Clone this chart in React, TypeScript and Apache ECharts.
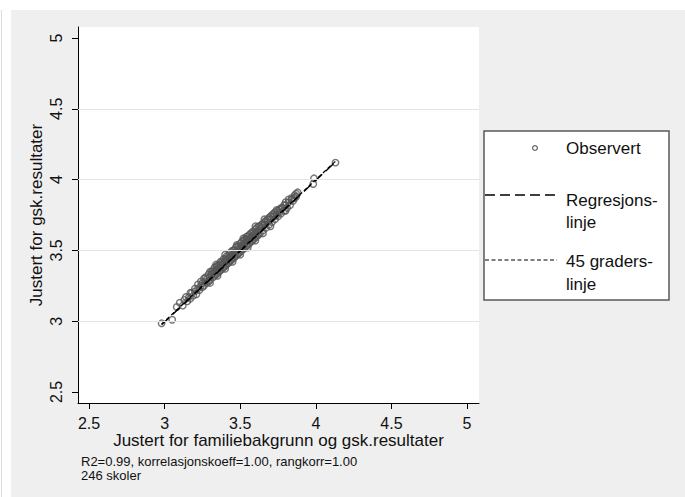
import React, { useEffect, useRef } from "react";
import * as echarts from "echarts";

const tickValues = [2.5, 3, 3.5, 4, 4.5, 5];
const gridValues = [3, 3.5, 4, 4.5];
const xTitle = "Justert for familiebakgrunn og gsk.resultater";
const yTitle = "Justert for gsk.resultater";
const noteLines = ["R2=0.99, korrelasjonskoeff=1.00, rangkorr=1.00", "246 skoler"];
const legendLabels = ["Observert", "Regresjons-\nlinje", "45 graders-\nlinje"];

const observed: number[][] = [
  [2.98, 2.985], [3.05, 3.01], [3.08, 3.1], [3.1, 3.13], [3.12, 3.11], [3.13, 3.15],
  [3.15, 3.14], [3.16, 3.17], [3.17, 3.16], [3.18, 3.2], [3.19, 3.18], [3.2, 3.21],
  [3.21, 3.19], [3.22, 3.23], [3.23, 3.22], [3.24, 3.25], [3.25, 3.24], [3.25, 3.27],
  [3.26, 3.25], [3.27, 3.28], [3.28, 3.27], [3.28, 3.3], [3.29, 3.28], [3.3, 3.31],
  [3.3, 3.29], [3.31, 3.33], [3.32, 3.31], [3.32, 3.34], [3.33, 3.32], [3.33, 3.35],
  [3.34, 3.33], [3.34, 3.36], [3.345, 3.39], [3.35, 3.34], [3.35, 3.37], [3.36, 3.35],
  [3.36, 3.38], [3.37, 3.36], [3.37, 3.39], [3.38, 3.37], [3.38, 3.4], [3.39, 3.38],
  [3.39, 3.41], [3.4, 3.39], [3.4, 3.42], [3.41, 3.4], [3.41, 3.43], [3.42, 3.41],
  [3.42, 3.44], [3.43, 3.42], [3.43, 3.45], [3.44, 3.43], [3.44, 3.46], [3.45, 3.44],
  [3.45, 3.47], [3.46, 3.45], [3.46, 3.48], [3.47, 3.46], [3.477, 3.538], [3.47, 3.49],
  [3.48, 3.47], [3.48, 3.5], [3.49, 3.48], [3.49, 3.51], [3.5, 3.49], [3.5, 3.52],
  [3.51, 3.5], [3.51, 3.53], [3.52, 3.51], [3.52, 3.54], [3.53, 3.52], [3.53, 3.55],
  [3.54, 3.53], [3.543, 3.597], [3.54, 3.56], [3.55, 3.54], [3.55, 3.57], [3.56, 3.55],
  [3.56, 3.58], [3.57, 3.56], [3.57, 3.59], [3.58, 3.57], [3.58, 3.6], [3.59, 3.58],
  [3.59, 3.61], [3.6, 3.59], [3.6, 3.62], [3.61, 3.6], [3.61, 3.63], [3.62, 3.61],
  [3.62, 3.64], [3.63, 3.62], [3.64, 3.66], [3.65, 3.64], [3.66, 3.68], [3.67, 3.66],
  [3.68, 3.7], [3.69, 3.68], [3.7, 3.72], [3.71, 3.7], [3.72, 3.74], [3.73, 3.72],
  [3.741, 3.785], [3.74, 3.75], [3.75, 3.74], [3.76, 3.77], [3.77, 3.76], [3.78, 3.8],
  [3.79, 3.78], [3.8, 3.82], [3.81, 3.8], [3.82, 3.84], [3.83, 3.82], [3.84, 3.86],
  [3.85, 3.85], [3.86, 3.87], [3.87, 3.88], [3.983, 3.969], [3.988, 4.009], [4.13, 4.12],
  [3.14, 3.17], [3.17, 3.2], [3.2, 3.23], [3.22, 3.26], [3.24, 3.28], [3.26, 3.3],
  [3.27, 3.31], [3.29, 3.33], [3.31, 3.35], [3.32, 3.36], [3.33, 3.38], [3.35, 3.39],
  [3.36, 3.4], [3.37, 3.42], [3.38, 3.42], [3.39, 3.44], [3.4, 3.44], [3.41, 3.46],
  [3.42, 3.46], [3.43, 3.48], [3.44, 3.49], [3.45, 3.5], [3.46, 3.5], [3.47, 3.52],
  [3.48, 3.53], [3.49, 3.53], [3.5, 3.55], [3.51, 3.56], [3.52, 3.57], [3.53, 3.58],
  [3.54, 3.58], [3.55, 3.6], [3.56, 3.61], [3.57, 3.62], [3.58, 3.63], [3.59, 3.63],
  [3.6, 3.65], [3.61, 3.66], [3.62, 3.67], [3.63, 3.67], [3.64, 3.68], [3.65, 3.69],
  [3.66, 3.7], [3.67, 3.71], [3.68, 3.72], [3.69, 3.73], [3.7, 3.74], [3.71, 3.75],
  [3.72, 3.76], [3.73, 3.77], [3.75, 3.78], [3.76, 3.79], [3.77, 3.8], [3.79, 3.82],
  [3.8, 3.84], [3.82, 3.86], [3.84, 3.87], [3.86, 3.89], [3.87, 3.9], [3.88, 3.91],
  [3.3, 3.35], [3.34, 3.4], [3.4, 3.47], [3.52, 3.585], [3.6, 3.67], [3.66, 3.72],
  [3.3, 3.27], [3.4, 3.37], [3.5, 3.47], [3.6, 3.57], [3.7, 3.67], [3.8, 3.78],
  [3.35, 3.32], [3.45, 3.42], [3.55, 3.52], [3.65, 3.62],
];

const regressionLine: number[][] = [[2.98, 2.975], [4.13, 4.125]];
const diagonalLine: number[][] = [[2.98, 2.98], [4.13, 4.13]];

const FONT = "'Liberation Sans', Arial, sans-serif";

export default function App() {
  const ref = useRef<HTMLDivElement>(null);
  useEffect(() => {
    document.body.style.margin = "0";
    const chart = echarts.init(ref.current!, null, { renderer: "svg" });
    const legendX = 484;
    chart.setOption({
      animation: false,
      backgroundColor: "#ffffff",
      textStyle: { fontFamily: FONT },
      grid: { left: 78, top: 27, width: 401, height: 376, backgroundColor: "#ffffff", show: true, borderWidth: 0 },
      xAxis: {
        type: "value",
        min: 2.427,
        max: 5.079,
        name: xTitle,
        nameLocation: "middle",
        nameGap: 29,
        nameMoveOverlap: false,
        nameTextStyle: { fontSize: 17, lineHeight: 17, color: "#111", fontWeight: "normal", fontFamily: FONT },
        axisLine: { show: true, onZero: false, lineStyle: { color: "#000", width: 1 } },
        axisTick: { show: true, length: 6, customValues: tickValues, lineStyle: { color: "#000" } },
        axisLabel: { customValues: tickValues, fontSize: 16, lineHeight: 16, color: "#111", margin: 12, fontFamily: FONT },
        splitLine: { show: false },
      },
      yAxis: {
        type: "value",
        min: 2.422,
        max: 5.078,
        name: yTitle,
        nameLocation: "middle",
        nameGap: 33,
        nameMoveOverlap: false,
        nameRotate: 90,
        nameTextStyle: { fontSize: 17, lineHeight: 17, color: "#111", fontWeight: "normal", fontFamily: FONT },
        axisLine: { show: true, onZero: false, lineStyle: { color: "#000", width: 1 } },
        axisTick: { show: true, length: 6, customValues: tickValues, lineStyle: { color: "#000" } },
        axisLabel: { customValues: tickValues, fontSize: 16, lineHeight: 16, color: "#111", margin: 14, rotate: 90, fontFamily: FONT },
        splitLine: { show: false },
      },
      series: [
        {
          type: "line",
          data: [],
          z: 1,
          silent: true,
          markLine: {
            silent: true,
            symbol: "none",
            label: { show: false },
            lineStyle: { color: "#e4e4e4", width: 1, type: "solid" },
            data: gridValues.map((v) => ({ yAxis: v })),
          },
        },
        {
          type: "scatter",
          name: "Observert",
          data: observed,
          symbol: "circle",
          symbolSize: 6.5,
          z: 3,
          itemStyle: { color: "rgba(0,0,0,0)", borderColor: "#555555", borderWidth: 1.4 },
        },
        {
          type: "line",
          name: "Regresjonslinje",
          data: regressionLine,
          showSymbol: false,
          symbol: "none",
          z: 4,
          lineStyle: { color: "#000", width: 1.4, type: [10, 5] },
        },
        {
          type: "line",
          name: "45 graderslinje",
          data: diagonalLine,
          showSymbol: false,
          symbol: "none",
          z: 4,
          lineStyle: { color: "#000", width: 1.2, type: [4, 2.5] },
        },
      ],
      graphic: [
        { type: "rect", z: -10, shape: { x: 11, y: 10, width: 674, height: 487 }, style: { fill: "#efefef" } },
        { type: "line", z: -10, shape: { x1: 1.5, y1: 10, x2: 1.5, y2: 497 }, style: { stroke: "#dddddd", lineWidth: 1 } },
        { type: "rect", z: 10, shape: { x: legendX, y: 131, width: 185, height: 169 }, style: { fill: "#ffffff", stroke: "#5a5a5a", lineWidth: 1.5 } },
        { type: "circle", z: 11, shape: { cx: 535, cy: 148, r: 2.4 }, style: { fill: "none", stroke: "#606060", lineWidth: 1.2 } },
        { type: "text", z: 11, x: 566, y: 148, style: { text: legendLabels[0], fontSize: 17, fontFamily: FONT, fill: "#111", verticalAlign: "middle" } },
        { type: "line", z: 11, shape: { x1: legendX + 1, y1: 195, x2: 557, y2: 195 }, style: { stroke: "#000", lineWidth: 1.4, lineDash: [10, 5] } },
        { type: "text", z: 11, x: 566, y: 189, style: { text: legendLabels[1], fontSize: 17, lineHeight: 22, fontFamily: FONT, fill: "#111", verticalAlign: "top" } },
        { type: "line", z: 11, shape: { x1: legendX + 1, y1: 260, x2: 557, y2: 260 }, style: { stroke: "#000", lineWidth: 1.2, lineDash: [4, 2.5] } },
        { type: "text", z: 11, x: 566, y: 250, style: { text: legendLabels[2], fontSize: 17, lineHeight: 23, fontFamily: FONT, fill: "#111", verticalAlign: "top" } },
        { type: "text", z: 11, x: 81, y: 455, style: { text: noteLines.join("\n"), fontSize: 13, lineHeight: 13.5, fontFamily: FONT, fill: "#111", verticalAlign: "top" } },
      ],
    });
    return () => chart.dispose();
  }, []);
  return <div ref={ref} style={{ width: 685, height: 497 }} />;
}
